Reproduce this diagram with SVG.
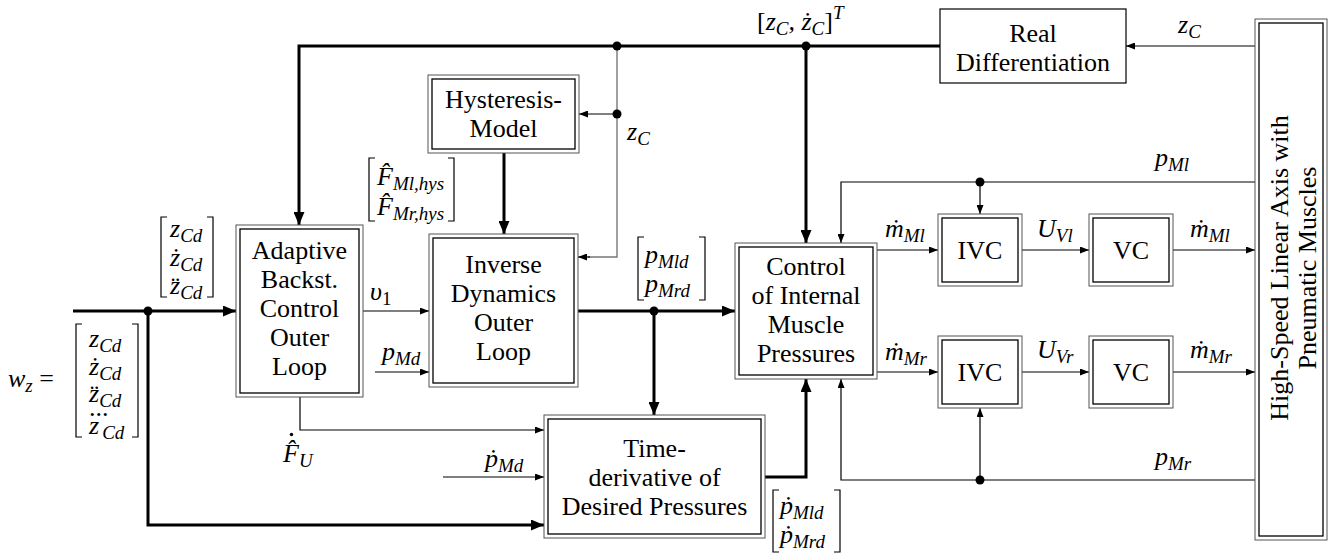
<svg xmlns="http://www.w3.org/2000/svg" width="1340" height="556" viewBox="0 0 1340 556">
<style>
.bo{fill:#fff;stroke:#555;stroke-width:1}
.bi{fill:none;stroke:#000;stroke-width:1.3}
.bs{fill:#fff;stroke:#000;stroke-width:1.2}
.t{font-family:'Liberation Serif',serif;font-size:26px;text-anchor:middle;fill:#000}
.m{font-family:'Liberation Serif',serif;font-size:26px;font-style:italic;fill:#000}
.u{font-style:normal}
.s{font-size:19px}
.thick{stroke:#000;stroke-width:3;fill:none}
.thin{stroke:#000;stroke-width:1.2;fill:none}
.gray{stroke:#777;stroke-width:1.4;fill:none}
.br{stroke:#000;stroke-width:1.2;fill:none}
.dot{fill:#000}
</style>
<defs>
<marker id="ak" markerUnits="userSpaceOnUse" markerWidth="13" markerHeight="11" refX="13" refY="5.5" orient="auto"><path d="M0,0 L13,5.5 L0,11 z" fill="#000"/></marker>
<marker id="an" markerUnits="userSpaceOnUse" markerWidth="9" markerHeight="7" refX="9" refY="3.5" orient="auto"><path d="M0,0 L9,3.5 L0,7 z" fill="#000"/></marker>
</defs>
<rect width="1340" height="556" fill="#fff"/>

<g id="connectors">
<path class="thick" d="M940,46 H299 V225" marker-end="url(#ak)"/>
<path class="thick" d="M806,46 V243" marker-end="url(#ak)"/>
<path class="gray" d="M617,46 V257 H588"/>
<path class="thin" d="M590,257 H578" marker-end="url(#an)"/>
<path class="thin" d="M617,114 H579" marker-end="url(#an)"/>
<path class="thick" d="M504,153 V234" marker-end="url(#ak)"/>
<path class="thick" d="M73,311 H236" marker-end="url(#ak)"/>
<path class="thick" d="M148,311 V525 H544" marker-end="url(#ak)"/>
<path class="thin" d="M363,311 H429" marker-end="url(#an)"/>
<path class="thin" d="M375,372 H429" marker-end="url(#an)"/>
<path class="thick" d="M578,311 H735" marker-end="url(#ak)"/>
<path class="thick" d="M654,311 V415" marker-end="url(#ak)"/>
<path class="thin" d="M300,397 V430 H544" marker-end="url(#an)"/>
<path class="thin" d="M443,477 H544" marker-end="url(#an)"/>
<path class="thick" d="M765,477 H806 V379" marker-end="url(#ak)"/>
<path class="thin" d="M877,250 H938" marker-end="url(#an)"/>
<path class="thin" d="M1022,250 H1089" marker-end="url(#an)"/>
<path class="thin" d="M1173,250 H1255" marker-end="url(#an)"/>
<path class="thin" d="M877,372 H938" marker-end="url(#an)"/>
<path class="thin" d="M1022,372 H1089" marker-end="url(#an)"/>
<path class="thin" d="M1173,372 H1255" marker-end="url(#an)"/>
<path class="thin" d="M1255,182 H841 V243" marker-end="url(#an)"/>
<path class="thin" d="M980,182 V214" marker-end="url(#an)"/>
<path class="thin" d="M1255,480 H841 V379" marker-end="url(#an)"/>
<path class="thin" d="M980,480 V408" marker-end="url(#an)"/>
<path class="thin" d="M1255,46 H1126" marker-end="url(#an)"/>
<circle class="dot" cx="148" cy="311" r="4.5"/>
<circle class="dot" cx="617" cy="46" r="4.5"/>
<circle class="dot" cx="617" cy="114" r="4.5"/>
<circle class="dot" cx="806" cy="46" r="4.5"/>
<circle class="dot" cx="654" cy="311" r="4.5"/>
<circle class="dot" cx="980" cy="182" r="4.5"/>
<circle class="dot" cx="980" cy="480" r="4.5"/>
</g>

<g id="adaptive">
<rect class="bo" x="236" y="225" width="127" height="172"/>
<rect class="bi" x="240" y="229" width="119" height="164"/>
<text class="t" x="299.5" y="259">Adaptive<tspan x="299.5" dy="29">Backst.</tspan><tspan x="299.5" dy="29">Control</tspan><tspan x="299.5" dy="29">Outer</tspan><tspan x="299.5" dy="29">Loop</tspan></text>
</g>
<g id="hysteresis">
<rect class="bo" x="428" y="75" width="151" height="78"/>
<rect class="bi" x="432" y="79" width="143" height="70"/>
<text class="t" x="503.5" y="108">Hysteresis-<tspan x="503.5" dy="29">Model</tspan></text>
</g>
<g id="inverse">
<rect class="bo" x="429" y="234" width="149" height="153"/>
<rect class="bi" x="433" y="238" width="141" height="145"/>
<text class="t" x="503.5" y="273">Inverse<tspan x="503.5" dy="29">Dynamics</tspan><tspan x="503.5" dy="29">Outer</tspan><tspan x="503.5" dy="29">Loop</tspan></text>
</g>
<g id="timederiv">
<rect class="bo" x="544" y="415" width="221" height="123"/>
<rect class="bi" x="548" y="419" width="213" height="115"/>
<text class="t" x="654.5" y="457">Time-<tspan x="654.5" dy="29">derivative of</tspan><tspan x="654.5" dy="29">Desired Pressures</tspan></text>
</g>
<g id="control">
<rect class="bo" x="735" y="243" width="142" height="136"/>
<rect class="bi" x="739" y="247" width="134" height="128"/>
<text class="t" x="806" y="275">Control<tspan x="806" dy="29">of Internal</tspan><tspan x="806" dy="29">Muscle</tspan><tspan x="806" dy="29">Pressures</tspan></text>
</g>
<g id="ivc1">
<rect class="bo" x="938" y="214" width="84" height="72"/>
<rect class="bi" x="942" y="218" width="76" height="64"/>
<text class="t" x="980" y="259">IVC</text>
</g>
<g id="vc1">
<rect class="bo" x="1089" y="214" width="84" height="72"/>
<rect class="bi" x="1093" y="218" width="76" height="64"/>
<text class="t" x="1131" y="259">VC</text>
</g>
<g id="ivc2">
<rect class="bo" x="938" y="336" width="84" height="72"/>
<rect class="bi" x="942" y="340" width="76" height="64"/>
<text class="t" x="980" y="381">IVC</text>
</g>
<g id="vc2">
<rect class="bo" x="1089" y="336" width="84" height="72"/>
<rect class="bi" x="1093" y="340" width="76" height="64"/>
<text class="t" x="1131" y="381">VC</text>
</g>
<g id="realdiff">
<rect class="bs" x="940" y="9" width="186" height="74"/>
<text class="t" x="1033" y="42">Real<tspan x="1033" dy="29">Differentiation</tspan></text>
</g>
<g id="plant">
<rect class="bo" x="1255" y="19" width="72" height="521"/>
<rect class="bi" x="1259" y="23" width="64" height="513"/>
<text class="t" transform="translate(1288,268) rotate(-90)">High-Speed Linear Axis with</text>
<text class="t" transform="translate(1316,268) rotate(-90)">Pneumatic Muscles</text>
</g>

<g id="labels">
<path class="br" d="M167,217 H161 V297 H167 M207,217 H213 V297 H207"/>
<text class="m" x="170" y="237">z<tspan class="s" dy="5">Cd</tspan></text>
<text class="m" x="170" y="266">ż<tspan class="s" dy="5">Cd</tspan></text>
<text class="m" x="170" y="294">z̈<tspan class="s" dy="5">Cd</tspan></text>

<text class="m" x="8" y="387">w<tspan class="s" dy="5">z</tspan><tspan class="u" dy="-5"> =</tspan></text>
<path class="br" d="M82,324 H76 V437 H82 M132,324 H138 V437 H132"/>
<text class="m" x="89" y="347">z<tspan class="s" dy="5">Cd</tspan></text>
<text class="m" x="89" y="375">ż<tspan class="s" dy="5">Cd</tspan></text>
<text class="m" x="89" y="402">z̈<tspan class="s" dy="5">Cd</tspan></text>
<text class="m" x="89" y="434">z<tspan class="s" dx="3" dy="5">Cd</tspan></text>
<text class="m u" x="89" y="416" font-size="13">...</text>

<path class="br" d="M375,158 H369 V221 H375 M448,158 H454 V221 H448"/>
<text class="m" x="377" y="185">F̂<tspan class="s" dy="5">Ml,hys</tspan></text>
<text class="m" x="377" y="215">F̂<tspan class="s" dy="5">Mr,hys</tspan></text>

<text class="m" x="627" y="140">z<tspan class="s" dy="5">C</tspan></text>
<text class="m" x="757" y="30"><tspan class="u">[</tspan>z<tspan class="s" dy="5">C</tspan><tspan dy="-5">, ż</tspan><tspan class="s" dy="5">C</tspan><tspan class="u" dy="-5">]</tspan><tspan class="s" dy="-11">T</tspan></text>

<path class="br" d="M644,237 H638 V300 H644 M699,237 H705 V300 H699"/>
<text class="m" x="645" y="263">p<tspan class="s" dy="5">Mld</tspan></text>
<text class="m" x="645" y="292">p<tspan class="s" dy="5">Mrd</tspan></text>

<text class="m" x="370" y="300">υ<tspan class="s u" dy="5">1</tspan></text>
<text class="m" x="382" y="360">p<tspan class="s" dy="5">Md</tspan></text>
<text class="m" x="283" y="462">F̂<tspan class="s" dy="5">U</tspan></text>
<circle class="dot" cx="291.5" cy="434.5" r="1.7"/>
<text class="m" x="485" y="467">ṗ<tspan class="s" dy="5">Md</tspan></text>

<path class="br" d="M779,490 H773 V552 H779 M834,490 H840 V552 H834"/>
<text class="m" x="780" y="514">ṗ<tspan class="s" dy="5">Mld</tspan></text>
<text class="m" x="780" y="543">ṗ<tspan class="s" dy="5">Mrd</tspan></text>

<text class="m" x="885" y="237">ṁ<tspan class="s" dy="5">Ml</tspan></text>
<text class="m" x="885" y="360">ṁ<tspan class="s" dy="5">Mr</tspan></text>
<text class="m" x="1037" y="237">U<tspan class="s" dy="5">Vl</tspan></text>
<text class="m" x="1037" y="358">U<tspan class="s" dy="5">Vr</tspan></text>
<text class="m" x="1190" y="237">ṁ<tspan class="s" dy="5">Ml</tspan></text>
<text class="m" x="1190" y="358">ṁ<tspan class="s" dy="5">Mr</tspan></text>
<text class="m" x="1178" y="33">z<tspan class="s" dy="5">C</tspan></text>
<text class="m" x="1155" y="166">p<tspan class="s" dy="5">Ml</tspan></text>
<text class="m" x="1155" y="465">p<tspan class="s" dy="5">Mr</tspan></text>
</g>
</svg>
